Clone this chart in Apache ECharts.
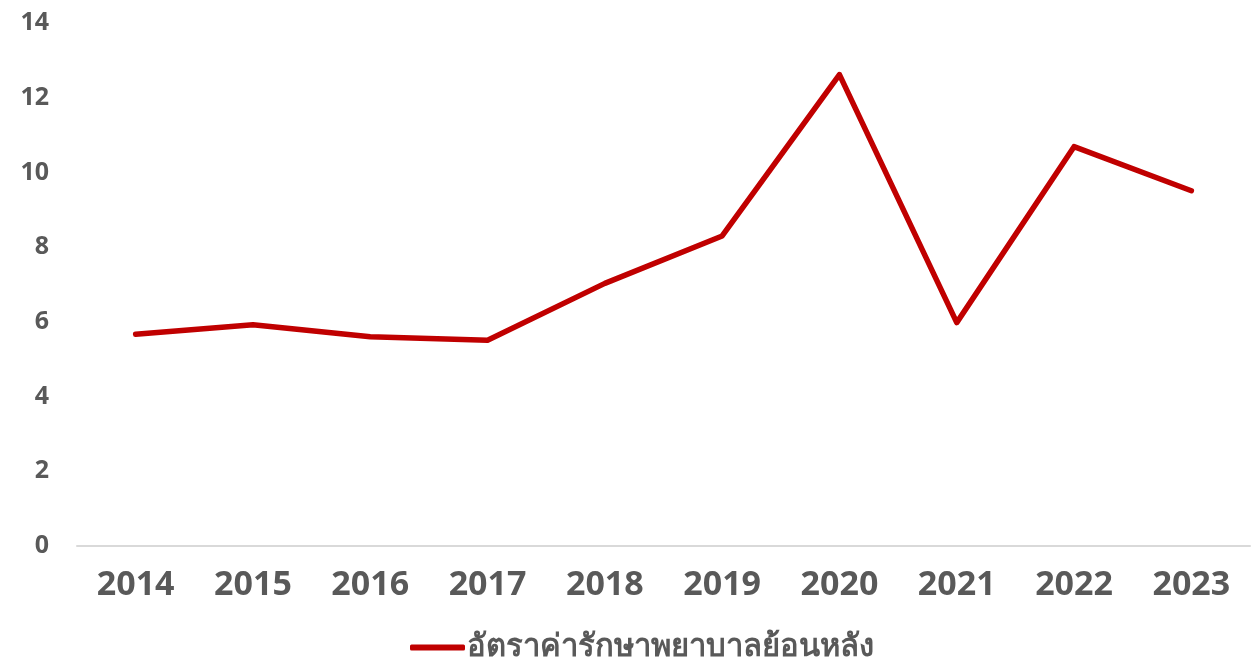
<!DOCTYPE html>
<html>
<head>
<meta charset="utf-8">
<script src="https://cdn.jsdelivr.net/npm/echarts@6/dist/echarts.min.js"></script>
<style>
    html, body { margin: 0; padding: 0; background: #fff; }
    #chart { width: 1255px; height: 670px; }
</style>
</head>
<body>
<div id="chart"></div>
<script>
    // 年份
    var years = ['2014', '2015', '2016', '2017', '2018', '2019', '2020', '2021', '2022', '2023'];
    // 医疗费用追溯率
    var rateValues = [5.67, 5.92, 5.6, 5.51, 7.03, 8.3, 12.62, 5.98, 10.69, 9.51];
    var seriesName = 'อัตราค่ารักษาพยาบาลย้อนหลัง';

    var myChart = echarts.init(document.getElementById('chart'));
    var option = {
        animation: false,
        legend: {
            data: [seriesName],
            left: 405,
            top: 627,
            itemWidth: 55,
            itemHeight: 6,
            itemGap: 10,
            icon: 'roundRect',
            textStyle: {
                color: '#595959',
                fontSize: 31,
                fontWeight: 'bold',
                fontFamily: 'Tahoma, "Noto Sans", "DejaVu Sans", sans-serif',
                padding: [0, 0, 0, -3]
            }
        },
        grid: {
            left: 77,
            right: 5,
            top: 23,
            bottom: 124,
            containLabel: false
        },
        xAxis: {
            type: 'category',
            data: years,
            boundaryGap: true,
            axisLine: { lineStyle: { color: '#d9d9d9', width: 2 } },
            axisTick: { show: false },
            axisLabel: {
                color: '#595959',
                fontSize: 34,
                fontWeight: 'bold',
                fontFamily: '"Open Sans", sans-serif',
                margin: 22
            }
        },
        yAxis: {
            type: 'value',
            min: 0,
            max: 14,
            interval: 2,
            splitLine: { show: false },
            axisLine: { show: false },
            axisTick: { show: false },
            axisLabel: {
                color: '#595959',
                fontSize: 25,
                fontWeight: 'bold',
                fontFamily: '"Open Sans", sans-serif',
                margin: 28
            }
        },
        series: [{
            name: seriesName,
            type: 'line',
            data: rateValues,
            symbol: 'none',
            lineStyle: { color: '#c00000', width: 5.5, cap: 'round', join: 'round' },
            itemStyle: { color: '#c00000' }
        }]
    };
    myChart.setOption(option);
</script>
</body>
</html>
